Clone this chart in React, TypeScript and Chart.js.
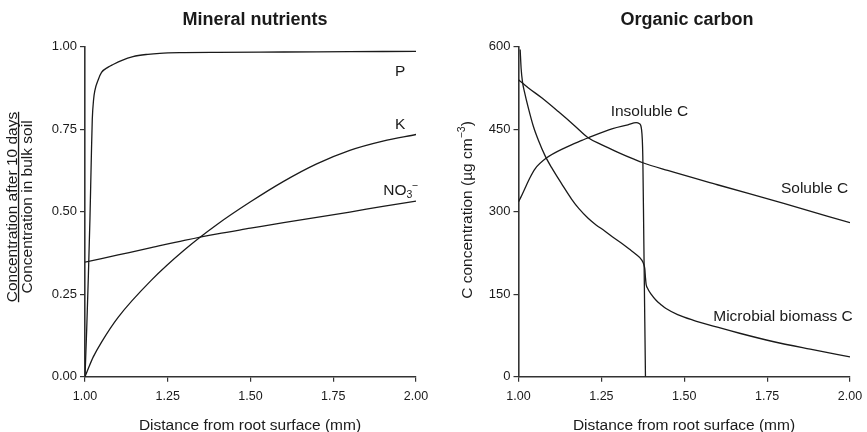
import React, { useEffect, useRef } from 'react';
import { Chart, registerables } from 'chart.js';
Chart.register(...registerables);

const FONT = '"Liberation Sans", Arial, Helvetica, sans-serif';
const INK = '#1a1a1a';

// ---------- Mineral nutrients (left) ----------
const pX = [1.0, 1.005, 1.01, 1.015, 1.019, 1.022, 1.026, 1.03, 1.04, 1.05, 1.07, 1.085, 1.11, 1.145, 1.19, 1.226, 1.3, 1.4, 1.6, 1.8, 2.0];
const pY = [0.0, 0.14, 0.3, 0.48, 0.66, 0.78, 0.84, 0.868, 0.9, 0.922, 0.938, 0.946, 0.958, 0.97, 0.977, 0.98, 0.982, 0.983, 0.984, 0.985, 0.986];

const kX = [1.0, 1.01, 1.025, 1.05, 1.1, 1.2, 1.3, 1.4, 1.5, 1.6, 1.7, 1.8, 1.9, 2.0];
const kY = [0.0, 0.025, 0.06, 0.105, 0.18, 0.292, 0.384, 0.462, 0.53, 0.592, 0.645, 0.686, 0.714, 0.734];

const nX = [1.0, 1.1, 1.2, 1.3, 1.4, 1.5, 1.6, 1.7, 1.8, 1.9, 2.0];
const nY = [0.347, 0.369, 0.391, 0.413, 0.433, 0.45, 0.467, 0.483, 0.499, 0.516, 0.532];

// ---------- Organic carbon (right) ----------
const sX = [1.0, 1.03, 1.07, 1.12, 1.17, 1.209, 1.25, 1.3, 1.35, 1.375, 1.45, 1.6, 1.8, 2.0];
const sY = [540, 525, 507, 482, 456, 435, 422, 408, 395, 389, 375, 349, 315, 280];

const iX = [1.0, 1.01, 1.02, 1.033, 1.05, 1.083, 1.143, 1.193, 1.209, 1.284, 1.33, 1.355, 1.365, 1.371, 1.375, 1.378, 1.381, 1.383];
const iY = [318, 330, 343, 360, 378, 397, 417, 430, 434, 451, 458, 462, 460, 450, 400, 250, 100, 0];

const mX = [1.005, 1.008, 1.012, 1.018, 1.03, 1.045, 1.06, 1.08, 1.1, 1.133, 1.16, 1.183, 1.21, 1.234, 1.26, 1.284, 1.31, 1.334, 1.355, 1.372, 1.378, 1.381, 1.383, 1.385, 1.39, 1.4, 1.415, 1.43, 1.445, 1.48, 1.526, 1.6, 1.667, 1.767, 1.88, 2.0];
const mY = [595, 560, 536, 518, 488, 455, 430, 402, 380, 348, 323, 305, 288, 276, 265, 254, 243, 232, 222, 212, 204, 196, 180, 168, 160, 150, 139, 131, 124, 113, 103, 90, 79, 64, 50, 36];

// ---------- Ticks ----------
const xTickValues = [1, 1.25, 1.5, 1.75, 2];
const xTickLabels = ['1.00', '1.25', '1.50', '1.75', '2.00'];
const leftYTickValues = [0, 0.25, 0.5, 0.75, 1];
const leftYTickLabels = ['0.00', '0.25', '0.50', '0.75', '1.00'];
const rightYTickValues = [0, 150, 300, 450, 600];
const rightYTickLabels = ['0', '150', '300', '450', '600'];

const leftTitle = 'Mineral nutrients';
const rightTitle = 'Organic carbon';
const xTitle = 'Distance from root surface (mm)';

const CANVAS_H = 432;
const PLOT_TOP = 46.7;
const PLOT_BOTTOM = 376.7;

function pts(xs: number[], ys: number[]) {
  return xs.map((x, i) => ({ x, y: ys[i] }));
}

type Ann = { text: string; x: number; y: number; sub?: string; sup?: string; align?: 'center' | 'left' };

function drawAnn(chart: any, ctx: CanvasRenderingContext2D, a: Ann) {
  const px = chart.scales.x.getPixelForValue(a.x);
  const py = chart.scales.y.getPixelForValue(a.y) + 5.5;
  ctx.font = `15.5px ${FONT}`;
  ctx.textBaseline = 'alphabetic';
  if (!a.sub && !a.sup) {
    ctx.textAlign = a.align || 'center';
    ctx.fillText(a.text, px, py);
    return;
  }
  ctx.textAlign = 'left';
  ctx.fillText(a.text, px, py);
  const cx = px + ctx.measureText(a.text).width;
  ctx.font = `10.5px ${FONT}`;
  let subW = 0;
  if (a.sub) {
    ctx.fillText(a.sub, cx, py + 3.5);
    subW = ctx.measureText(a.sub).width;
  }
  if (a.sup) {
    ctx.fillText(a.sup, cx + subW - 0.5, py - 6);
  }
}

function textPlugin(cfg: any) {
  return {
    id: 'texts' + cfg.id,
    afterDraw(chart: any) {
      const ctx: CanvasRenderingContext2D = chart.ctx;
      ctx.save();
      ctx.fillStyle = INK;
      ctx.strokeStyle = INK;
      ctx.font = `bold 18px ${FONT}`;
      ctx.textAlign = 'center';
      ctx.textBaseline = 'alphabetic';
      ctx.fillText(cfg.title, cfg.titleX, 25);
      ctx.font = `15.5px ${FONT}`;
      ctx.fillText(xTitle, cfg.xTitleX, 430);
      cfg.drawYTitle(ctx);
      cfg.anns.forEach((a: Ann) => drawAnn(chart, ctx, a));
      ctx.restore();
    },
  };
}

function drawLeftYTitle(ctx: CanvasRenderingContext2D) {
  const line1 = 'Concentration after 10 days';
  const line2 = 'Concentration in bulk soil';
  ctx.save();
  ctx.font = `15.5px ${FONT}`;
  ctx.textAlign = 'center';
  ctx.textBaseline = 'alphabetic';
  ctx.translate(16.7, 207);
  ctx.rotate(-Math.PI / 2);
  ctx.fillText(line1, 0, 0);
  const w1 = ctx.measureText(line1).width;
  ctx.fillRect(-w1 / 2, 1.2, w1, 1.3);
  ctx.restore();
  ctx.save();
  ctx.font = `15.5px ${FONT}`;
  ctx.textAlign = 'center';
  ctx.textBaseline = 'alphabetic';
  ctx.translate(31.7, 207);
  ctx.rotate(-Math.PI / 2);
  ctx.fillText(line2, 0, 0);
  ctx.restore();
}

function drawRightYTitle(ctx: CanvasRenderingContext2D) {
  const main = 'C concentration (\u00B5g cm';
  const sup = '\u22123';
  const close = ')';
  ctx.save();
  ctx.translate(38.7, 210);
  ctx.rotate(-Math.PI / 2);
  ctx.textAlign = 'left';
  ctx.textBaseline = 'alphabetic';
  ctx.font = `15.5px ${FONT}`;
  const wMain = ctx.measureText(main).width;
  const wClose = ctx.measureText(close).width;
  ctx.font = `10.5px ${FONT}`;
  const wSup = ctx.measureText(sup).width;
  const start = -(wMain + wSup + wClose) / 2;
  ctx.font = `15.5px ${FONT}`;
  ctx.fillText(main, start, 0);
  ctx.font = `10.5px ${FONT}`;
  ctx.fillText(sup, start + wMain, -6.5);
  ctx.font = `15.5px ${FONT}`;
  ctx.fillText(close, start + wMain + wSup, 0);
  ctx.restore();
}

function makeConfig(opts: any) {
  const axisColor = '#333';
  return {
    type: 'line',
    data: {
      datasets: opts.series.map((d: any) => ({
        data: d,
        borderColor: INK,
        borderWidth: 1.3,
        pointRadius: 0,
        fill: false,
        cubicInterpolationMode: 'monotone',
      })),
    },
    options: {
      animation: false,
      responsive: false,
      devicePixelRatio: 1,
      layout: { padding: { left: 0, right: opts.canvasW - opts.plotRight, top: PLOT_TOP, bottom: 0 } },
      plugins: { legend: { display: false }, tooltip: { enabled: false }, title: { display: false } },
      scales: {
        x: {
          type: 'linear',
          min: 1,
          max: 2,
          afterBuildTicks: (s: any) => {
            s.ticks = xTickValues.map((v) => ({ value: v }));
          },
          afterFit: (s: any) => {
            s.height = CANVAS_H - PLOT_BOTTOM;
            s.paddingLeft = 0;
            s.paddingRight = 0;
          },
          ticks: {
            callback: (_v: any, i: number) => xTickLabels[i],
            font: { family: FONT, size: 12.5 },
            color: INK,
            padding: 7,
            maxRotation: 0,
            autoSkip: false,
          },
          grid: { drawOnChartArea: false, tickLength: 5, color: axisColor, lineWidth: 1.2 },
          border: { display: true, color: axisColor, width: 1.6 },
        },
        y: {
          type: 'linear',
          min: opts.yMin,
          max: opts.yMax,
          afterBuildTicks: (s: any) => {
            s.ticks = opts.yTicks.map((v: number) => ({ value: v }));
          },
          afterFit: (s: any) => {
            s.width = opts.plotLeft;
            s.paddingTop = 0;
            s.paddingBottom = 0;
          },
          ticks: {
            callback: (_v: any, i: number) => opts.yLabels[i],
            font: { family: FONT, size: 13 },
            color: INK,
            padding: 3,
            autoSkip: false,
          },
          grid: { drawOnChartArea: false, tickLength: 5, color: axisColor, lineWidth: 1.2 },
          border: { display: true, color: axisColor, width: 1.6 },
        },
      },
    },
    plugins: [opts.plugin],
  };
}

export default function App() {
  const leftRef = useRef<HTMLCanvasElement>(null);
  const rightRef = useRef<HTMLCanvasElement>(null);

  useEffect(() => {
    const left = new Chart(
      leftRef.current as HTMLCanvasElement,
      makeConfig({
        canvasW: 433,
        plotLeft: 85,
        plotRight: 416,
        yMin: 0,
        yMax: 1,
        yTicks: leftYTickValues,
        yLabels: leftYTickLabels,
        series: [pts(pX, pY), pts(kX, kY), pts(nX, nY)],
        plugin: textPlugin({
          id: 'L',
          title: leftTitle,
          titleX: 255,
          xTitleX: 250,
          drawYTitle: drawLeftYTitle,
          anns: [
            { text: 'P', x: 1.952, y: 0.929 },
            { text: 'K', x: 1.952, y: 0.768 },
            { text: 'NO', x: 1.901, y: 0.568, sub: '3', sup: '\u2212' },
          ],
        }),
      }) as any
    );
    const right = new Chart(
      rightRef.current as HTMLCanvasElement,
      makeConfig({
        canvasW: 434,
        plotLeft: 85.5,
        plotRight: 417,
        yMin: 0,
        yMax: 600,
        yTicks: rightYTickValues,
        yLabels: rightYTickLabels,
        series: [pts(sX, sY), pts(iX, iY), pts(mX, mY)],
        plugin: textPlugin({
          id: 'R',
          title: rightTitle,
          titleX: 254,
          xTitleX: 251,
          drawYTitle: drawRightYTitle,
          anns: [
            { text: 'Insoluble C', x: 1.395, y: 483.5 },
            { text: 'Soluble C', x: 1.893, y: 344 },
            { text: 'Microbial biomass C', x: 1.798, y: 110.7 },
          ],
        }),
      }) as any
    );
    return () => {
      left.destroy();
      right.destroy();
    };
  }, []);

  return (
    <div style={{ position: 'absolute', left: 0, top: 0, width: 867, height: 432, background: '#fff' }}>
      <canvas ref={leftRef} width={433} height={432} style={{ position: 'absolute', left: 0, top: 0, width: 433, height: 432 }} />
      <canvas ref={rightRef} width={434} height={432} style={{ position: 'absolute', left: 433, top: 0, width: 434, height: 432 }} />
    </div>
  );
}
